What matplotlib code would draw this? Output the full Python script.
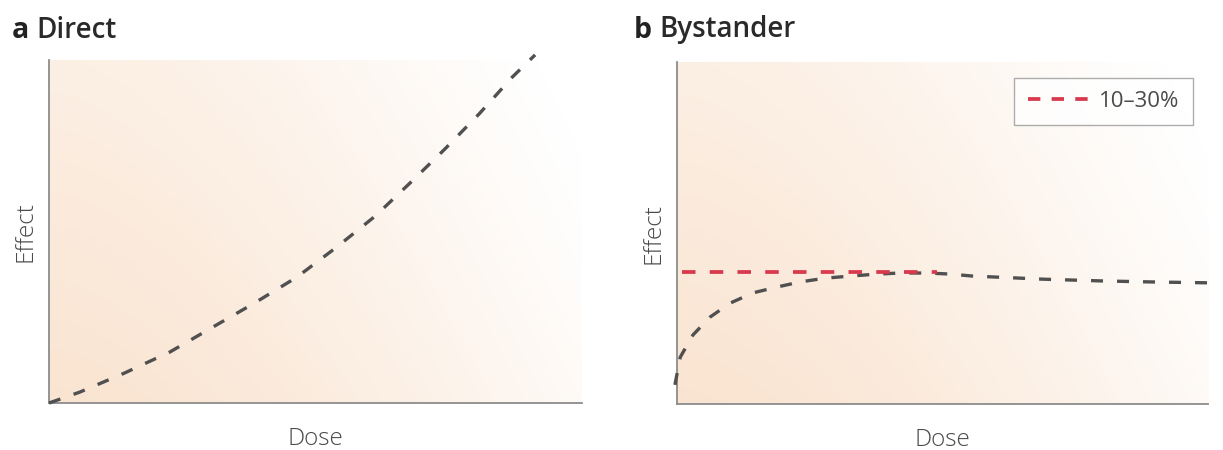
import numpy as np
import matplotlib
matplotlib.use('Agg')
import matplotlib.pyplot as plt

plt.rcParams['font.family'] = ['Open Sans', 'DejaVu Sans']

# panel a: direct effect (dose and effect in arbitrary units, 0-100)
direct_dose = [0, 5.8, 14.1, 22.7, 30.8, 38.6, 46.5, 54.0, 61.2, 67.9, 74.3, 80.7, 86.9, 91.2]
direct_effect = [0, 3.2, 8.7, 14.9, 22.2, 29.2, 36.7, 45.5, 54.5, 64.4, 74.1, 84.3, 95.0, 101.5]

# panel b: bystander effect
bys_dose = [-0.4, 0.6, 3.0, 6.2, 10.0, 14.3, 18.8, 23.2, 27.9, 32.6, 37.7, 42.0, 47.1,
            51.4, 55.7, 60.3, 64.6, 68.9, 79.7, 89.1, 101.3]
bys_effect = [5.6, 13.7, 20.2, 25.4, 29.5, 32.5, 34.2, 35.7, 36.8, 37.4, 38.0, 38.3, 38.3,
              38.0, 37.4, 37.1, 36.8, 36.5, 36.0, 35.7, 35.4]
band_dose = [0.9, 49.0]
band_level = 38.5
band_label = '10\u201330%'

gray = '#505050'
red = '#d8394c'
spine_col = '#8c8c8c'
label_col = '#4a4a4a'


def gradient(ax):
    gx, gy = np.meshgrid(np.linspace(0, 1, 300), np.linspace(0, 1, 200))
    s = np.clip(1 - 0.75 * gx ** 1.6 - 0.35 * gy, 0, 1) ** 1.2
    peach = np.array([0.98, 0.895, 0.82])
    img = 1 - s[..., None] * (1 - peach)
    ax.imshow(img, extent=[0, 1, 0, 1], origin='lower', transform=ax.transAxes,
              aspect='auto', zorder=0, interpolation='bilinear')


def style(ax):
    for side in ['top', 'right']:
        ax.spines[side].set_visible(False)
    for side in ['left', 'bottom']:
        ax.spines[side].set_color(spine_col)
        ax.spines[side].set_linewidth(1.3)
    ax.set_xticks([])
    ax.set_yticks([])
    ax.set_xlim(0, 100)
    ax.set_ylim(0, 100)
    ax.set_xlabel('Dose', fontsize=17.5, color=label_col, fontweight='light', labelpad=17)
    ax.set_ylabel('Effect', fontsize=17.5, color=label_col, fontweight='light', labelpad=8)


fig = plt.figure(figsize=(12.23, 4.5), dpi=100)
ax1 = fig.add_axes([0.0401, 0.1044, 0.4358, 0.7622])
ax2 = fig.add_axes([0.5536, 0.1022, 0.4342, 0.7600])

gradient(ax1)
style(ax1)
ax1.plot(direct_dose, direct_effect, color=gray, lw=2.4, dashes=(3.6, 4.2),
         clip_on=False, zorder=3)

gradient(ax2)
style(ax2)
ax2.plot(band_dose, [band_level, band_level], color=red, lw=2.7, dashes=(3.6, 3.8),
         zorder=4, label=band_label)
ax2.plot(bys_dose, bys_effect, color=gray, lw=2.4, dashes=(3.6, 4.2),
         clip_on=False, zorder=3)
leg = ax2.legend(loc='upper right', fontsize=16, frameon=True, fancybox=False,
                 handlelength=2.7, handletextpad=0.5, borderaxespad=0.7,
                 labelcolor=label_col, borderpad=0.6, bbox_to_anchor=(1.0, 1.0))
leg.get_frame().set_edgecolor('#999999')
leg.get_frame().set_linewidth(1.0)
leg.get_lines()[0].set_dashes((3.3, 3.0))

for x, letter, word in [(12, 'a', 'Direct'), (634, 'b', 'Bystander')]:
    t = fig.text(x / 1223, 1 - 30 / 450, letter, fontsize=20.5, fontweight='bold',
                 color='#222222', va='center')
    fig.canvas.draw()
    ax1.annotate(word, xy=(1, 0), xycoords=t, xytext=(5, 0), textcoords='offset points',
                 fontsize=20, fontweight='semibold', color='#2a2a2a', va='bottom',
                 annotation_clip=False)

fig.savefig('out.png', dpi=100)
